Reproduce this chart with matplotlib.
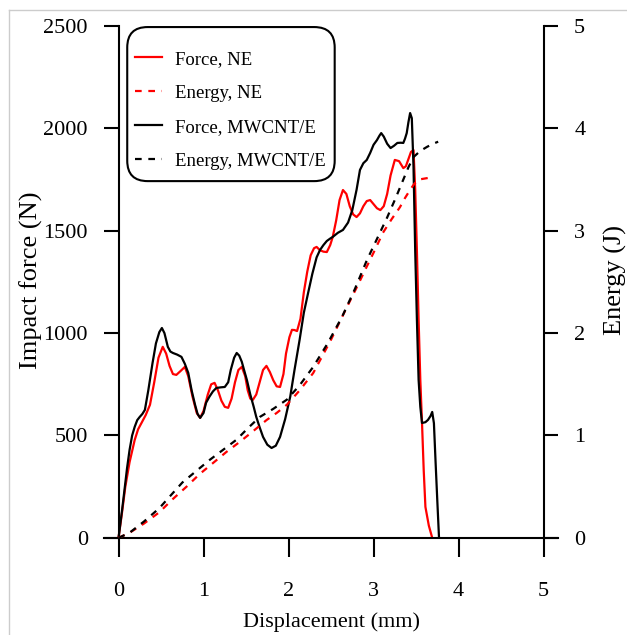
import numpy as np
import matplotlib.pyplot as plt
from matplotlib.lines import Line2D
from matplotlib.patches import FancyBboxPatch

plt.rcParams['font.family'] = ['Liberation Serif', 'DejaVu Serif']

# Force, NE (red)
x_f_ne = [0, 0.04, 0.08, 0.13, 0.19, 0.23, 0.27, 0.32, 0.37, 0.42, 0.47, 0.52, 0.56, 0.60,
          0.64, 0.68, 0.73, 0.78, 0.82, 0.87, 0.92, 0.96, 1.00, 1.05, 1.09, 1.13,
          1.17, 1.21, 1.25, 1.29, 1.33, 1.37, 1.41, 1.45, 1.49, 1.52, 1.55, 1.58,
          1.62, 1.66, 1.70, 1.74, 1.78, 1.82, 1.86, 1.90, 1.94, 1.97, 2.01, 2.04,
          2.07, 2.10, 2.14, 2.18, 2.22, 2.26, 2.30, 2.33, 2.37, 2.41, 2.45, 2.49,
          2.52, 2.56, 2.60, 2.64, 2.68, 2.72, 2.76, 2.80, 2.84, 2.88, 2.92, 2.96,
          3.00, 3.04, 3.08, 3.12, 3.16, 3.20, 3.25, 3.30, 3.35, 3.38, 3.41, 3.44,
          3.47, 3.49, 3.51, 3.53, 3.55, 3.57, 3.59, 3.61, 3.65, 3.69]
f_ne = [0, 120, 250, 370, 478, 530, 561, 600, 650, 760, 880, 933, 900, 840,
        800, 796, 815, 835, 790, 690, 610, 586, 620, 700, 750, 757,
        720, 670, 640, 635, 680, 760, 820, 835, 790, 720, 680, 674,
        700, 760, 820, 840, 810, 770, 740, 737, 800, 900, 980, 1016,
        1015, 1010, 1070, 1200, 1300, 1380, 1415, 1421, 1405, 1398, 1396, 1430,
        1470, 1550, 1650, 1699, 1680, 1620, 1580, 1567, 1585, 1620, 1645, 1650,
        1630, 1610, 1601, 1620, 1680, 1770, 1846, 1840, 1806, 1815, 1850, 1885,
        1894, 1700, 1400, 1064, 771, 561, 330, 151, 60, 0]

# Force, MWCNT/E (black)
x_f_mw = [0, 0.04, 0.07, 0.10, 0.13, 0.16, 0.19, 0.22, 0.25, 0.28, 0.31, 0.35, 0.40,
          0.44, 0.48, 0.51, 0.54, 0.58, 0.61, 0.64, 0.69, 0.74, 0.78, 0.82, 0.86,
          0.90, 0.93, 0.96, 1.00, 1.03, 1.07, 1.11, 1.15, 1.20, 1.25, 1.29, 1.32,
          1.36, 1.39, 1.42, 1.45, 1.48, 1.51, 1.55, 1.59, 1.62, 1.66, 1.70, 1.75,
          1.80, 1.85, 1.90, 1.96, 2.02, 2.07, 2.13, 2.18, 2.23, 2.28, 2.33, 2.37,
          2.41, 2.45, 2.49, 2.52, 2.58, 2.64, 2.70, 2.75, 2.80, 2.84, 2.88, 2.92,
          2.96, 3.00, 3.04, 3.07, 3.09, 3.12, 3.16, 3.20, 3.24, 3.28, 3.32, 3.35,
          3.37, 3.39, 3.41, 3.43, 3.45, 3.47, 3.49, 3.51, 3.53, 3.55, 3.57, 3.61,
          3.64, 3.67, 3.69, 3.71, 3.73, 3.75, 3.77]
f_mw = [0, 130, 234, 340, 430, 500, 542, 575, 591, 605, 625, 720, 854,
        950, 1005, 1025, 1000, 933, 910, 903, 895, 884, 850, 806, 720,
        650, 605, 586, 610, 660, 690, 715, 732, 735, 737, 760, 820,
        880, 903, 890, 860, 815, 771, 700, 640, 591, 540, 493, 455,
        439, 450, 493, 580, 690, 820, 967, 1100, 1196, 1290, 1370, 1406,
        1430, 1450, 1462, 1470, 1490, 1504, 1540, 1601, 1700, 1797, 1830, 1846,
        1880, 1920, 1943, 1965, 1977, 1960, 1925, 1904, 1915, 1929, 1930, 1929,
        1950, 1977, 2030, 2075, 2050, 1812, 1400, 1064, 771, 640, 561, 565,
        576, 595, 615, 560, 366, 180, 0]

# Energy, NE (red dashed)
x_e_ne = [0, 0.13, 0.30, 0.48, 0.64, 0.80, 0.95, 1.11, 1.27, 1.43, 1.58, 1.74, 1.86,
          1.98, 2.13, 2.29, 2.49, 2.69, 2.81, 2.92, 3.02, 3.11, 3.21, 3.31,
          3.37, 3.43, 3.48, 3.53, 3.60, 3.67]
e_ne = [0, 0.05, 0.14, 0.25, 0.38, 0.50, 0.62, 0.73, 0.84, 0.94, 1.04, 1.15, 1.22,
        1.30, 1.44, 1.61, 1.92, 2.26, 2.46, 2.65, 2.82, 2.98, 3.11, 3.23,
        3.32, 3.40, 3.46, 3.50, 3.51, 3.52]

# Energy, MWCNT/E (black dashed)
x_e_mw = [0, 0.13, 0.30, 0.48, 0.62, 0.75, 0.91, 1.07, 1.23, 1.39, 1.52, 1.66, 1.82,
          1.98, 2.13, 2.29, 2.46, 2.63, 2.78, 2.92, 3.04, 3.16, 3.26, 3.35,
          3.41, 3.47, 3.55, 3.63, 3.70, 3.76]
e_mw = [0, 0.05, 0.16, 0.29, 0.42, 0.54, 0.65, 0.76, 0.86, 0.96, 1.07, 1.18, 1.26,
        1.35, 1.49, 1.67, 1.90, 2.16, 2.43, 2.71, 2.92, 3.13, 3.32, 3.50,
        3.62, 3.72, 3.78, 3.82, 3.85, 3.87]

fig = plt.figure(figsize=(6.27, 6.35), dpi=100)
ax = fig.add_axes([0.166, 0.153, 0.724, 0.806])
ax2 = ax.twinx()

l1, = ax.plot(x_f_ne, f_ne, color='red', lw=1.6, label='Force, NE')
l3, = ax.plot(x_f_mw, f_mw, color='black', lw=1.6, label='Force, MWCNT/E')
l2, = ax2.plot(x_e_ne, e_ne, color='red', lw=1.6, ls=(0, (3, 3)), label='Energy, NE')
l4, = ax2.plot(x_e_mw, e_mw, color='black', lw=1.6, ls=(0, (3, 3)), label='Energy, MWCNT/E')

ax.set_xlim(-0.17, 5.17)
ax.set_ylim(0, 2500)
ax2.set_ylim(0, 5)
ax.set_xticks([0, 1, 2, 3, 4, 5])
ax.set_yticks([0, 500, 1000, 1500, 2000, 2500])
ax2.set_yticks([0, 1, 2, 3, 4, 5])

for a in (ax, ax2):
    a.spines['top'].set_visible(False)
ax.spines['right'].set_visible(False)
ax.spines['left'].set_position(('data', 0))
ax2.spines['left'].set_visible(False)
ax2.spines['bottom'].set_visible(False)
ax2.spines['right'].set_position(('data', 5))
for s in ('left', 'bottom'):
    ax.spines[s].set_linewidth(1.5)
ax2.spines['right'].set_linewidth(1.5)

ax.tick_params(axis='x', direction='out', length=14, width=1.5, pad=18, labelsize=16)
ax.tick_params(axis='y', direction='out', length=11, width=1.5, pad=11, labelsize=16)
ax2.tick_params(axis='y', direction='out', length=10, width=1.5, pad=12, labelsize=16)

ax.set_xlabel('Displacement (mm)', fontsize=16)
ax.xaxis.set_label_coords(0.5, -0.145)
ax.set_ylabel('Impact force (N)', fontsize=19)
ax.yaxis.set_label_coords(-0.135, 0.504)
ax2.set_ylabel('Energy (J)', fontsize=19)
ax2.yaxis.set_label_coords(1.1, 0.504)

# legend box drawn separately (rounded, tall padding)
box = FancyBboxPatch((0.051, 0.697), 0.457, 0.301, transform=ax2.transAxes,
                     boxstyle='round,pad=0,rounding_size=0.045', mutation_aspect=454 / 512,
                     facecolor='white', edgecolor='black', lw=1.5, zorder=4, clip_on=False)
ax2.add_patch(box)
leg = ax2.legend(handles=[l1, l2, l3, l4], loc='upper left', bbox_to_anchor=(0.068, 0.952),
                 fontsize=13.5, handlelength=1.45, handletextpad=0.7, labelspacing=0.9,
                 borderpad=0, borderaxespad=0, frameon=False)
leg.set_zorder(5)

# light frame of the screenshot
fig.add_artist(Line2D([9 / 627, 9 / 627], [0, 1 - 10 / 635], color='#cccccc', lw=1))
fig.add_artist(Line2D([9 / 627, 1], [1 - 10 / 635, 1 - 10 / 635], color='#cccccc', lw=1))

fig.savefig('out.png', dpi=100)
